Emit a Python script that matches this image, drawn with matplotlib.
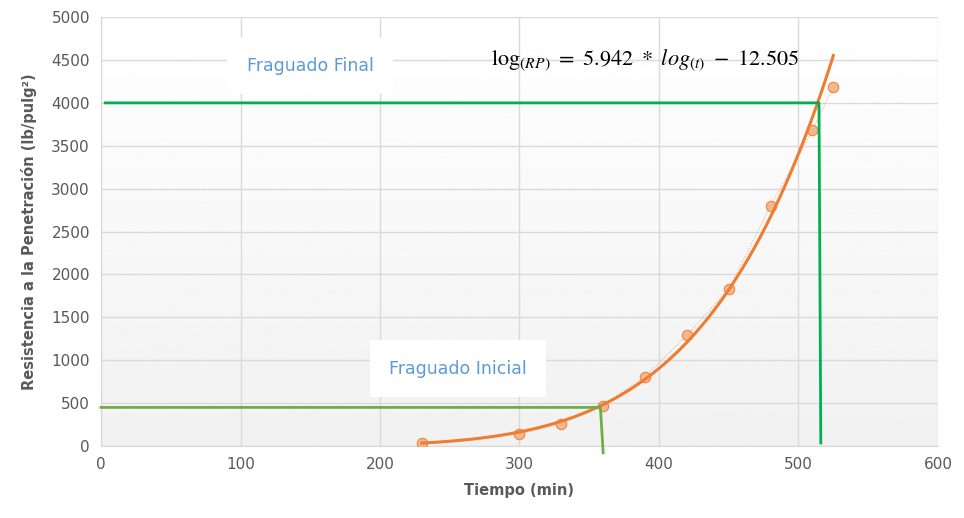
import numpy as np
import matplotlib
matplotlib.use('Agg')
import matplotlib.pyplot as plt

# measured points
tiempo = [230, 300, 330, 360, 390, 420, 450, 480, 510, 525]
resistencia = [30, 140, 260, 470, 810, 1290, 1830, 2800, 3680, 4190]

# trend line  log(RP) = a*log(t) + b
coef_a = 5.942
coef_b = -12.505
t_fit = np.linspace(230, 525, 200)
rp_fit = 10 ** (coef_a * np.log10(t_fit) + coef_b)

# setting-time guide lines
final_x = [3, 514.7, 516]
final_y = [4000, 4000, 35]
inicial_x = [0, 358, 360]
inicial_y = [450, 450, -80]

xticks = [0, 100, 200, 300, 400, 500, 600]
yticks = [0, 500, 1000, 1500, 2000, 2500, 3000, 3500, 4000, 4500, 5000]

plt.rcParams['mathtext.fontset'] = 'stix'

fig = plt.figure(figsize=(9.64, 5.18), dpi=100)
ax = fig.add_axes([0.1048, 0.139, 0.8682, 0.828])

# plot area gradient
grad = np.linspace(1.0, 0.945, 256).reshape(-1, 1)
ax.imshow(grad, cmap='gray', vmin=0, vmax=1, aspect='auto',
          extent=[0, 600, 0, 5000], origin='upper', zorder=0)

ax.set_xlim(0, 600)
ax.set_ylim(0, 5000)
ax.set_xticks(xticks)
ax.set_yticks(yticks)
ax.set_axisbelow(True)
ax.grid(True, color='#dadada', linewidth=1)
for s in ['top', 'right']:
    ax.spines[s].set_visible(False)
for s in ['left', 'bottom']:
    ax.spines[s].set_color('#d9d9d9')
ax.tick_params(length=0, labelsize=11, labelcolor='#595959', pad=8)

ax.set_xlabel('Tiempo (min)', fontsize=10.5, fontweight='bold', color='#595959', labelpad=8)
ax.set_ylabel('Resistencia a la Penetración (lb/pulg²)', fontsize=10.5,
              fontweight='bold', color='#595959', labelpad=10)

# data series
ax.plot(tiempo, resistencia, color='#F4B183', linewidth=0.8, linestyle=':', zorder=3)
ax.plot(tiempo, resistencia, linestyle='none', marker='o', markersize=7.5,
        markerfacecolor='#F4B183', markeredgecolor='#ED7D31', markeredgewidth=0.8,
        alpha=0.9, zorder=4)
ax.plot(t_fit, rp_fit, color='#ED7D31', linewidth=2.2, zorder=5, clip_on=False)

# guide lines
ax.plot(final_x, final_y, color='#00B050', linewidth=2, zorder=6, clip_on=False)
ax.plot(inicial_x, inicial_y, color='#70AD47', linewidth=2, zorder=6, clip_on=False)

box = dict(facecolor='white', edgecolor='none', pad=14)
ax.text(150, 4430, 'Fraguado Final', fontsize=12.5, color='#5B9BD5',
        ha='center', va='center', bbox=box, zorder=7)
ax.text(256, 900, 'Fraguado Inicial', fontsize=12.5, color='#5B9BD5',
        ha='center', va='center', bbox=box, zorder=7)

ax.text(390, 4500, r'$\mathrm{log}_{(RP)}\ =\ 5.942\ *\ log_{(t)}\ -\ 12.505$',
        fontsize=16, color='black', ha='center', va='center', zorder=7)

fig.savefig('out.png', dpi=100)
